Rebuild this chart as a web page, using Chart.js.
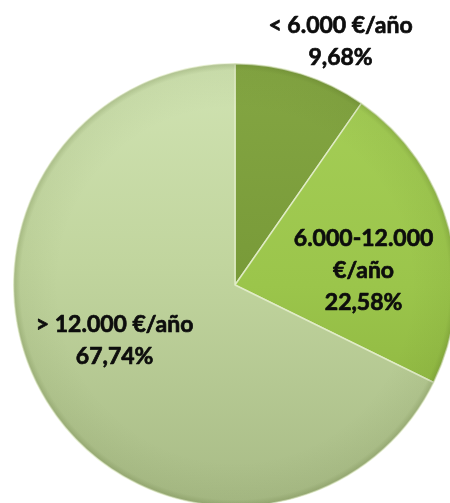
<!DOCTYPE html>
<html>
<head>
<meta charset="utf-8">
<script src="https://cdn.jsdelivr.net/npm/chart.js@4/dist/chart.umd.min.js"></script>
<style>
  html, body { margin: 0; padding: 0; background: #fff; overflow: hidden; }
  #wrap { width: 450px; height: 503px; overflow: hidden; position: relative; }
  #pie { position: absolute; left: 0; top: 0; }
</style>
</head>
<body>
<div id="wrap"><canvas id="pie" width="470" height="570"></canvas></div>
<script>
// income brackets and their share of households
const categories = ['< 6.000 €/año', '6.000-12.000 €/año', '> 12.000 €/año'];
const shares = [9.68, 22.58, 67.74];
const labelLines = [
  ['< 6.000 €/año', '9,68%'],
  ['6.000-12.000', '€/año', '22,58%'],
  ['> 12.000 €/año', '67,74%']
];

// where each label sits: fraction of the radius and a small turn off the mid angle
const labelRadius = [1.2, 0.585, 0.6];
const labelTurn = [6, 8, 7];

const FONT = 'bold 23px Lato, "Open Sans", sans-serif';
const LINE_H = 32;

function sliceFill(ctx) {
  const chart = ctx.chart;
  const area = chart.chartArea;
  if (!area) return '#9dc44c';
  const g = chart.ctx.createLinearGradient(0, area.top, 0, area.bottom);
  if (ctx.dataIndex === 0) {
    g.addColorStop(0, '#84a643');
    g.addColorStop(0.5, '#789a38');
    g.addColorStop(1, '#6b8a30');
  } else if (ctx.dataIndex === 1) {
    g.addColorStop(0, '#a6cf58');
    g.addColorStop(0.5, '#9bc54b');
    g.addColorStop(1, '#86ad3a');
  } else {
    g.addColorStop(0, '#d0e3b2');
    g.addColorStop(0.45, '#c1d59e');
    g.addColorStop(1, '#a8bb86');
  }
  return g;
}

// darkens the rim slightly so the pie looks rounded
const rimShade = {
  id: 'rimShade',
  afterDatasetsDraw(chart) {
    const arc = chart.getDatasetMeta(0).data[0];
    if (!arc) return;
    const { x, y, outerRadius } = arc;
    const c = chart.ctx;
    const g = c.createRadialGradient(x, y, outerRadius * 0.8, x, y, outerRadius);
    g.addColorStop(0, 'rgba(60,80,20,0)');
    g.addColorStop(0.85, 'rgba(60,80,20,0.05)');
    g.addColorStop(1, 'rgba(60,80,20,0.22)');
    c.save();
    c.beginPath();
    c.arc(x, y, outerRadius, 0, Math.PI * 2);
    c.fillStyle = g;
    c.fill();
    c.restore();
  }
};

const sliceLabels = {
  id: 'sliceLabels',
  afterDraw(chart) {
    const c = chart.ctx;
    c.save();
    c.font = FONT;
    c.fillStyle = '#0d0d0d';
    c.strokeStyle = '#0d0d0d';
    c.lineWidth = 0.7;
    c.lineJoin = 'round';
    c.textAlign = 'center';
    c.textBaseline = 'middle';
    chart.getDatasetMeta(0).data.forEach((arc, i) => {
      const mid = (arc.startAngle + arc.endAngle) / 2 + labelTurn[i] * Math.PI / 180;
      const r = arc.outerRadius * labelRadius[i];
      const cx = arc.x + Math.cos(mid) * r;
      const cy = arc.y + Math.sin(mid) * r;
      const lines = labelLines[i];
      const top = cy - (lines.length - 1) * LINE_H / 2;
      lines.forEach((t, k) => {
        c.fillText(t, cx, top + k * LINE_H);
        c.strokeText(t, cx, top + k * LINE_H);
      });
    });
    c.restore();
  }
};

new Chart(document.getElementById('pie'), {
  type: 'pie',
  data: {
    labels: categories,
    datasets: [{
      data: shares,
      backgroundColor: sliceFill,
      borderColor: 'rgba(228,238,205,0.85)',
      borderWidth: 1.5
    }]
  },
  options: {
    responsive: false,
    animation: false,
    layout: { padding: { top: 63, bottom: 63, left: 13, right: 13 } },
    plugins: {
      legend: { display: false },
      tooltip: { enabled: false }
    }
  },
  plugins: [rimShade, sliceLabels]
});
</script>
</body>
</html>
